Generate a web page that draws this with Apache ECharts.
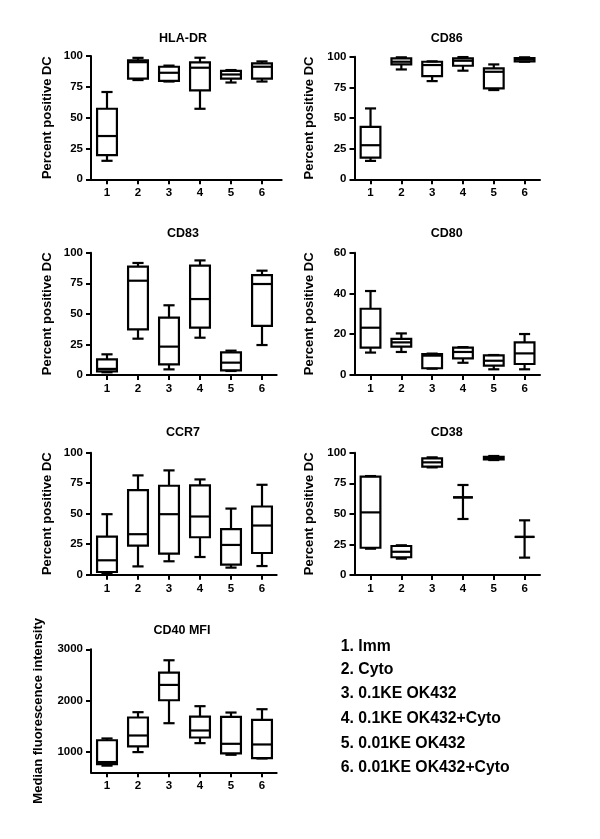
<!DOCTYPE html>
<html>
<head>
<meta charset="utf-8">
<script src="https://cdn.jsdelivr.net/npm/echarts@6/dist/echarts.min.js"></script>
<style>
html,body{margin:0;padding:0;background:#fff;}
#chart{width:600px;height:839px;}
</style>
</head>
<body>
<div id="chart"></div>
<script>
// Group positions (x categories)
const groups = [1, 2, 3, 4, 5, 6];
const groupLabels = ['1. Imm', '2. Cyto', '3. 0.1KE OK432', '4. 0.1KE OK432+Cyto', '5. 0.01KE OK432', '6. 0.01KE OK432+Cyto'];

// Box data per group: [min, Q1, median, Q3, max]
const hlaDr = [
  [15, 19.6, 35.1, 57.2, 70.8],
  [80.5, 81.7, 95, 96.5, 98.5],
  [79.3, 79.8, 86.4, 91.3, 92.2],
  [57.2, 72.2, 90.5, 94.8, 98.6],
  [78.5, 81.7, 85, 88, 88.6],
  [79.3, 81.7, 91.3, 94, 95.6]
];
const cd86 = [
  [15, 17.7, 27.8, 42.8, 57.8],
  [89.6, 93.7, 95.9, 98.6, 99.5],
  [80.1, 84.2, 93.2, 95.9, 96.2],
  [88.6, 92.6, 96.7, 98.6, 99.7],
  [72.8, 74.1, 87.7, 90.5, 93.7],
  [95.9, 96.2, 97.8, 98.9, 99.5]
];
const cd83 = [
  [2.2, 3, 5, 12.8, 16.9],
  [29.7, 37.3, 77.1, 88.6, 91.6],
  [4.6, 8.7, 23.2, 46.9, 57],
  [30.5, 38.7, 62.1, 89.4, 93.7],
  [3.3, 3.8, 10.1, 18.5, 19.9],
  [24.5, 40.1, 74.4, 81.7, 85.3]
];
const cd80 = [
  [11, 13.4, 23.2, 32.5, 41.2],
  [11.3, 13.9, 16, 17.7, 20.4],
  [3.1, 3.3, 9.5, 10.3, 10.5],
  [6, 8.2, 11.3, 13.4, 13.7],
  [2.8, 4.6, 7, 9.6, 9.8],
  [2.8, 5.4, 10.6, 16, 20.1]
];
const ccr7 = [
  [1.4, 2.2, 11.8, 31.2, 49.6],
  [6.8, 23.8, 33.2, 69.3, 81.4],
  [11, 17.3, 49.6, 72.9, 85.5],
  [14.5, 30.7, 47.7, 73.2, 78.1],
  [5.8, 8.2, 24.4, 37.3, 54.2],
  [7.1, 17.8, 40.3, 55.9, 73.7]
];
const cd38 = [
  [21.5, 22.3, 51.2, 80.4, 80.9],
  [13.4, 14.5, 19, 23.7, 24.3],
  [88, 88.6, 92.1, 95.4, 96.2],
  [45.8, 63.5, 63.5, 63.5, 73.6],
  [94, 94.6, 95.6, 96.7, 97.3],
  [14.2, 31.1, 31.1, 31.1, 44.7]
];
const cd40 = [
  [730, 760, 800, 1225, 1260],
  [994, 1104, 1318, 1669, 1773],
  [1558, 2006, 2305, 2545, 2786],
  [1169, 1279, 1416, 1688, 1890],
  [942, 968, 1156, 1682, 1766],
  [870, 877, 1143, 1623, 1831]
];

// Tick labels
const pctTicks = [0, 25, 50, 75, 100];
const cd80Ticks = [0, 20, 40, 60];
const mfiTicks = [1000, 2000, 3000];

const FONT = '"Liberation Sans", Arial, Helvetica, sans-serif';

const panels = [
  {title: 'HLA-DR', data: hlaDr, grid: {left: 91, top: 56, width: 190.7, height: 123.3}, xmin: 0.484, xmax: 6.636, ymin: 0, ymax: 100, ticks: pctTicks, name: 'Percent positive DC', gap: 37, tx: 183, ty: 39},
  {title: 'CD86', data: cd86, grid: {left: 354.5, top: 56.7, width: 185.5, height: 122.6}, xmin: 0.48, xmax: 6.50, ymin: 0, ymax: 100, ticks: pctTicks, name: 'Percent positive DC', gap: 39, tx: 446.7, ty: 38.5},
  {title: 'CD83', data: cd83, grid: {left: 91, top: 252.7, width: 185.7, height: 122.3}, xmin: 0.484, xmax: 6.474, ymin: 0, ymax: 100, ticks: pctTicks, name: 'Percent positive DC', gap: 37, tx: 183, ty: 233.5},
  {title: 'CD80', data: cd80, grid: {left: 354.5, top: 252.7, width: 185.5, height: 122.3}, xmin: 0.48, xmax: 6.50, ymin: 0, ymax: 60, ticks: cd80Ticks, name: 'Percent positive DC', gap: 39, tx: 446.7, ty: 233.5},
  {title: 'CCR7', data: ccr7, grid: {left: 91, top: 452.7, width: 185.7, height: 122}, xmin: 0.484, xmax: 6.474, ymin: 0, ymax: 100, ticks: pctTicks, name: 'Percent positive DC', gap: 37, tx: 183, ty: 433},
  {title: 'CD38', data: cd38, grid: {left: 354.5, top: 452.7, width: 185.5, height: 122.3}, xmin: 0.48, xmax: 6.50, ymin: 0, ymax: 100, ticks: pctTicks, name: 'Percent positive DC', gap: 39, tx: 446.7, ty: 433},
  {title: 'CD40 MFI', data: cd40, grid: {left: 91, top: 649.3, width: 185.7, height: 123}, xmin: 0.484, xmax: 6.474, ymin: 600, ymax: 3000, ticks: mfiTicks, name: 'Median fluorescence intensity', gap: 46.5, tx: 182, ty: 631}
];

function renderBox(params, api) {
  const x = api.value(0);
  const band = api.size([1, 0])[0];
  const hw = band * 0.32;
  const cw = band * 0.18;
  const pts = [1, 2, 3, 4, 5].map(i => api.coord([x, api.value(i)]));
  const cx = pts[0][0];
  const yMin = pts[0][1], yQ1 = pts[1][1], yMed = pts[2][1], yQ3 = pts[3][1], yMax = pts[4][1];
  const st = {stroke: '#000', lineWidth: 2.2, fill: null};
  return {
    type: 'group',
    children: [
      {type: 'line', shape: {x1: cx, y1: yMax, x2: cx, y2: yQ3}, style: st},
      {type: 'line', shape: {x1: cx, y1: yQ1, x2: cx, y2: yMin}, style: st},
      {type: 'line', shape: {x1: cx - cw, y1: yMax, x2: cx + cw, y2: yMax}, style: st},
      {type: 'line', shape: {x1: cx - cw, y1: yMin, x2: cx + cw, y2: yMin}, style: st},
      {type: 'rect', shape: {x: cx - hw, y: yQ3, width: 2 * hw, height: yQ1 - yQ3}, style: {stroke: '#000', lineWidth: 2.2, fill: 'rgba(0,0,0,0)'}},
      {type: 'line', shape: {x1: cx - hw, y1: yMed, x2: cx + hw, y2: yMed}, style: st}
    ]
  };
}

const grids = [], xAxes = [], yAxes = [], series = [], graphics = [];
panels.forEach((p, i) => {
  grids.push(Object.assign({containLabel: false}, p.grid));
  xAxes.push({
    type: 'value', gridIndex: i, min: p.xmin, max: p.xmax,
    splitLine: {show: false},
    axisLine: {show: true, onZero: false, lineStyle: {color: '#000', width: 2}},
    axisTick: {show: true, customValues: groups, length: 5, lineStyle: {color: '#000', width: 2}},
    axisLabel: {show: true, customValues: groups, margin: 8, color: '#000', fontSize: 11.5, fontWeight: 'bold', fontFamily: FONT}
  });
  yAxes.push({
    type: 'value', gridIndex: i, min: p.ymin, max: p.ymax,
    name: p.name, nameLocation: 'middle', nameRotate: 90, nameGap: p.gap,
    nameTextStyle: {color: '#000', fontSize: 13, fontWeight: 'bold', fontFamily: FONT},
    splitLine: {show: false},
    axisLine: {show: true, onZero: false, lineStyle: {color: '#000', width: 2}},
    axisTick: {show: true, customValues: p.ticks, length: 5, lineStyle: {color: '#000', width: 2}},
    axisLabel: {show: true, customValues: p.ticks, margin: 8, color: '#000', fontSize: 11.5, fontWeight: 'bold', fontFamily: FONT,
      formatter: v => String(v)}
  });
  series.push({
    type: 'custom', xAxisIndex: i, yAxisIndex: i,
    renderItem: renderBox,
    encode: {x: 0, y: [1, 2, 3, 4, 5]},
    data: p.data.map((d, k) => [groups[k]].concat(d)),
    silent: true, animation: false
  });
  graphics.push({
    type: 'text', x: p.tx, y: p.ty,
    style: {text: p.title, fill: '#000', font: 'bold 12.5px ' + FONT, textAlign: 'center', textVerticalAlign: 'middle'}
  });
});

const legendY = [646.7, 670, 693.3, 719, 744, 767.7];
groupLabels.forEach((t, k) => {
  graphics.push({
    type: 'text', x: 340.7, y: legendY[k],
    style: {text: t, fill: '#000', font: 'bold 15.8px ' + FONT, textAlign: 'left', textVerticalAlign: 'middle'}
  });
});

const chart = echarts.init(document.getElementById('chart'), null, {renderer: 'canvas', width: 600, height: 839});
chart.setOption({
  animation: false,
  backgroundColor: '#fff',
  grid: grids,
  xAxis: xAxes,
  yAxis: yAxes,
  series: series,
  graphic: graphics
});
</script>
</body>
</html>
